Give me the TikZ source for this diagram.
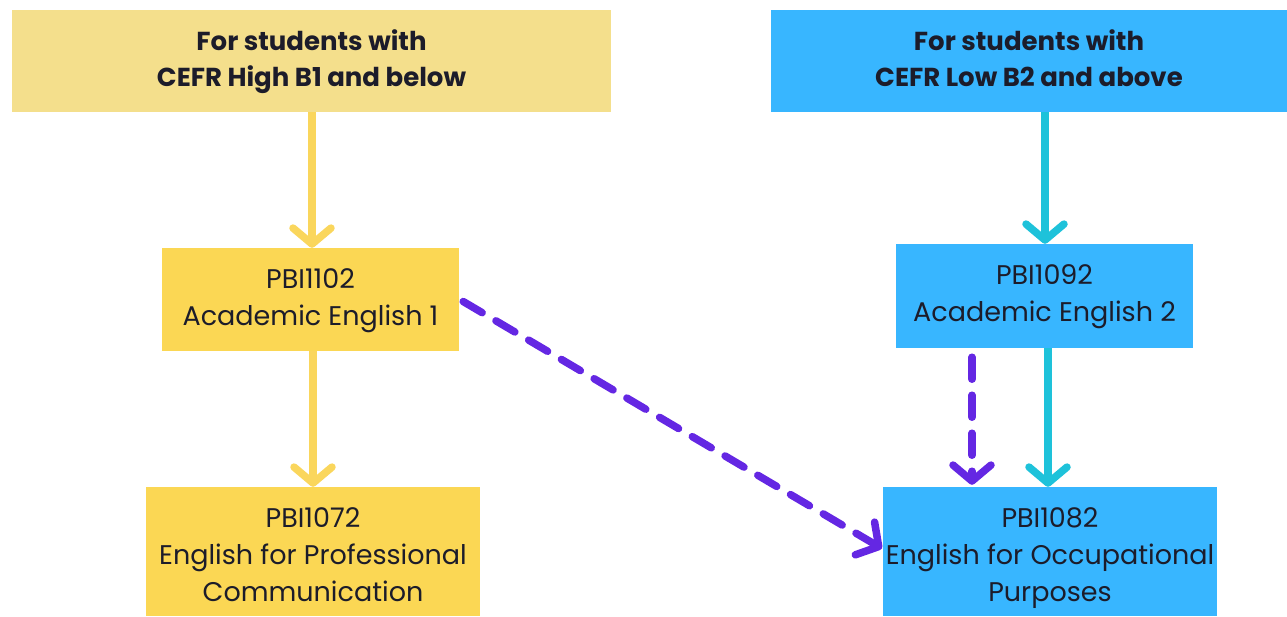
\documentclass[tikz,border=0pt]{standalone}
\usepackage{fontspec}
\setmainfont{Poppins}
\usetikzlibrary{arrows.meta}
\definecolor{hdryel}{HTML}{F4DF8C}
\definecolor{boxyel}{HTML}{FBD754}
\definecolor{boxblue}{HTML}{38B6FF}
\definecolor{arryel}{HTML}{FAD65C}
\definecolor{arrcyan}{HTML}{1EC2DA}
\definecolor{arrpurp}{HTML}{6427E3}
\definecolor{txt}{HTML}{1C1C2A}
\tikzset{
  hdr/.style={inner sep=0pt, align=center, text=txt, font=\fontsize{26}{36}\selectfont\bfseries},
  crs/.style={inner sep=0pt, align=center, text=txt, font=\fontsize{27}{37}\selectfont},
  chev/.style={-{Straight Barb[length=16pt,width=38pt,round]}, line width=7.5pt},
  flowyel/.style={chev, draw=arryel},
  flowcyan/.style={chev, draw=arrcyan},
  flowpurp/.style={chev, draw=arrpurp, line cap=round, dash pattern=on 22pt off 16pt},
}
\begin{document}
\begin{tikzpicture}[x=1pt,y=-1pt]
\useasboundingbox (0,0) rectangle (1287,616);
\node[hdr, fill=hdryel, minimum width=599pt, minimum height=102pt] (h1) at (311.5,61) {\strut For students with\\\strut CEFR High B1 and below};
\node[hdr, fill=boxblue, minimum width=516pt, minimum height=102pt] (h2) at (1029,61) {\strut For students with\\\strut CEFR Low B2 and above};
\node[crs, fill=boxyel, minimum width=297pt, minimum height=103pt] (c1) at (310.5,299.5) {\strut PBI1102\\\strut Academic English 1};
\node[crs, fill=boxblue, minimum width=297pt, minimum height=104pt] (c2) at (1044.5,296) {\strut PBI1092\\\strut Academic English 2};
\node[crs, fill=boxyel, minimum width=334pt, minimum height=129pt, text depth=0pt] (c3) at (313,551.5) {\strut PBI1072\\\strut English for Professional\\\strut Communication};
\node[crs, fill=boxblue, minimum width=334pt, minimum height=129pt, text depth=0pt] (c4) at (1050,551.5) {\strut PBI1082\\\strut English for Occupational\\\strut Purposes};
\draw[flowyel] (h1.south -| 312,0) -- (c1.north -| 312,0);
\draw[flowyel] (c1.south -| 313,0) -- (c3.north -| 313,0);
\draw[flowcyan] (h2.south -| 1045,0) -- (c2.north -| 1045,0);
\draw[flowcyan] (c2.south -| 1048,0) -- (c4.north -| 1048,0);
\draw[flowpurp, shorten <=9pt, shorten >=2pt] (c2.south -| 972,0) -- (c4.north -| 972,0);
\draw[flowpurp, shorten >=1pt] (c1.east) ++(4,2) coordinate (p1) (p1) -- (c4.west |- 0,549);
\end{tikzpicture}
\end{document}
